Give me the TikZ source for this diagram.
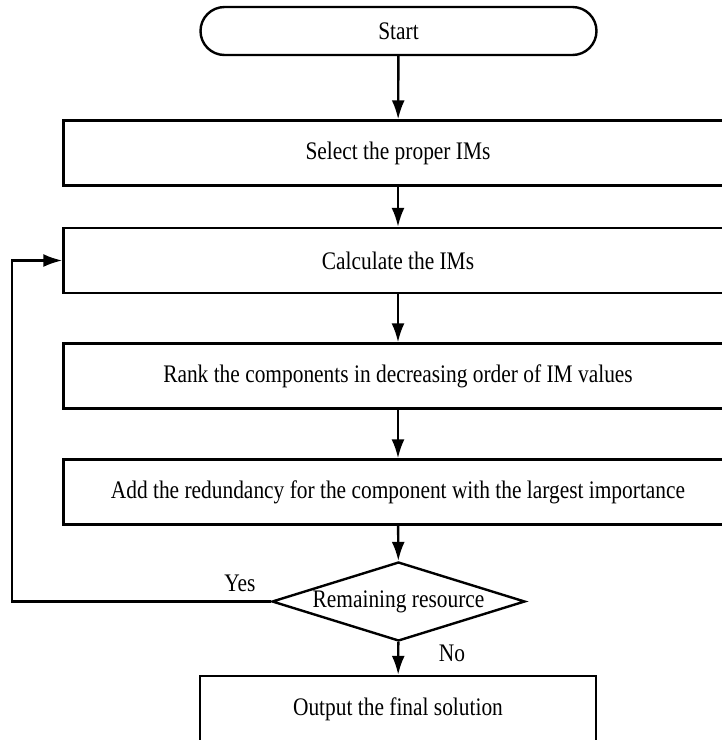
\documentclass[tikz,border=0pt]{standalone}
\usepackage{fontspec}
\usepackage{graphicx}
\setmainfont{Liberation Serif}
\usetikzlibrary{arrows.meta,shapes.geometric}
\newcommand{\tall}[1]{\scalebox{1}[1.18]{#1}}
\begin{document}
\begin{tikzpicture}[x=1pt,y=-1pt,
  every node/.style={font=\fontsize{21.4pt}{24pt}\selectfont, text=black},
  box/.style={draw, line width=2.4pt, rectangle, inner sep=0pt},
  flow/.style={draw, line width=2.4pt, -{Latex[length=19pt,width=13pt]}},
  lbl/.style={inner sep=0pt}
]
\useasboundingbox (0,0) rectangle (722,740);
\node[box, rounded corners=24pt, minimum width=396pt, minimum height=48pt] (start) at (398.5,31) {\tall{Start}};
\node[box, minimum width=669pt, minimum height=65pt] (select) at (398,153) {\tall{Select the proper IMs}};
\node[box, minimum width=669pt, minimum height=65pt] (calc) at (398,260.5) {\tall{Calculate the IMs}};
\node[box, minimum width=669pt, minimum height=65pt] (rank) at (398,376) {\tall{Rank the components in decreasing order of IM values}};
\node[box, minimum width=669pt, minimum height=65pt] (add) at (398,492) {\tall{Add the redundancy for the component with the largest importance}};
\node[draw, line width=2.4pt, shape=diamond, aspect=3.2, inner sep=0pt, minimum width=253pt, minimum height=79pt] (rem) at (398.5,601.5) {\tall{Remaining resource}};
\node[box, minimum width=396pt, minimum height=66pt] (out) at (398,709) {\tall{Output the final solution}};
\coordinate (c1) at (12,601.5);
\coordinate (c2) at (12,260.5);
\node[lbl] (yes) at (240,583) {\tall{Yes}};
\node[lbl] (no) at (452,653) {\tall{No}};
\draw[flow] (start) -- (select);
\draw[flow] (select) -- (calc);
\draw[flow] (calc) -- (rank);
\draw[flow] (rank) -- (add);
\draw[flow] (add) -- (rem);
\draw[flow] (rem) -- (out);
\draw[flow] (rem.west) -- (c1) -- (c2) -- (calc.west);
\end{tikzpicture}
\end{document}
